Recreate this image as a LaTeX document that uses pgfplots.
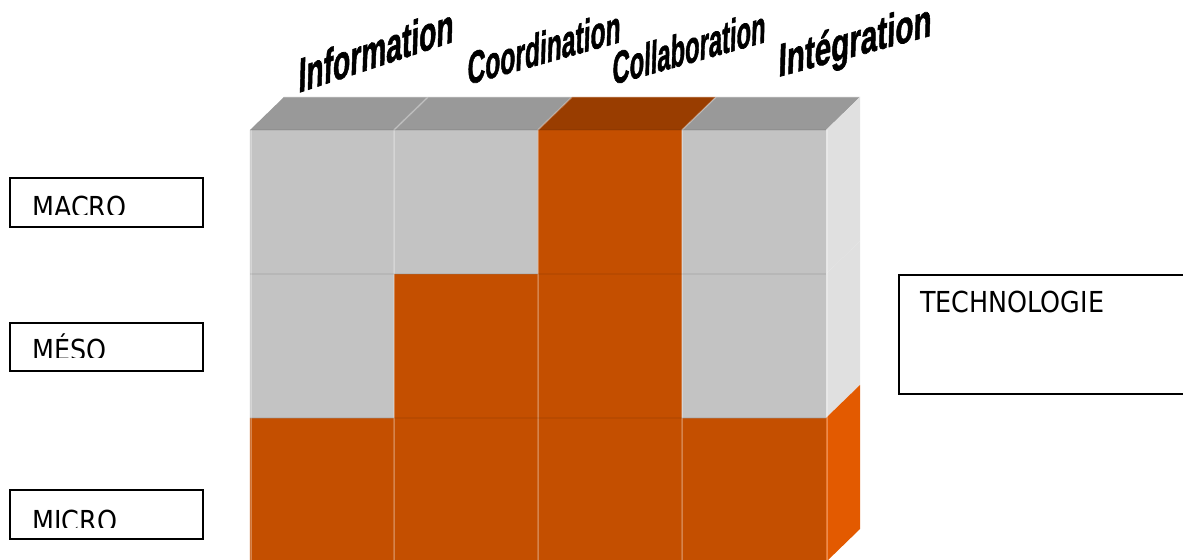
\documentclass[border=0pt]{standalone}
\usepackage{pgfplots}
\pgfplotsset{compat=1.18}
\usepackage{pgfplotstable}
\usepackage{fontspec}
\setmainfont{DejaVu Sans}[FakeStretch=0.88]
\newfontfamily\wordart{Liberation Sans}[BoldFeatures={FakeBold=1.6}]

\definecolor{frontgray}{RGB}{195,195,195}
\definecolor{frontorange}{RGB}{196,79,0}
\definecolor{topgray}{RGB}{153,153,153}
\definecolor{toporange}{RGB}{153,61,0}
\definecolor{sidegray}{RGB}{224,224,224}
\definecolor{sideorange}{RGB}{227,90,0}

\tikzset{
    lbl/.style={anchor=base west, inner sep=0pt, font=\fontsize{29}{34}\selectfont},
    wa/.style={anchor=base west, inner sep=0pt, yslant=#1, xslant=0.03, transform shape,
        font=\wordart\bfseries},
}

% cell centres (px), on = 1 orange / 0 gray
\pgfplotstableread{
x   y   on
322 490 1
466 490 1
610 490 1
754 490 1
322 346 0
466 346 1
610 346 1
754 346 0
322 202 0
466 202 0
610 202 1
754 202 0
}\cells

\begin{document}
\begin{tikzpicture}
\begin{axis}[
    width=1183bp, height=560bp, scale only axis,
    hide axis,
    xmin=0, xmax=1183, ymin=0, ymax=560,
    y dir=reverse,
    colormap={blocs}{rgb255=(195,195,195) rgb255=(196,79,0)},
    point meta min=0, point meta max=1,
]
    % front faces
    \addplot[matrix plot*, mesh/cols=4, point meta=explicit, draw=none]
        table[meta=on] {\cells};

    % top faces
    \addplot[fill=topgray, draw=none] coordinates {(250,130) (394,130) (428,97) (284,97)} --cycle;
    \addplot[fill=topgray, draw=none] coordinates {(394,130) (538,130) (572,97) (428,97)} --cycle;
    \addplot[fill=toporange, draw=none] coordinates {(538,130) (682,130) (716,97) (572,97)} --cycle;
    \addplot[fill=topgray, draw=none] coordinates {(682,130) (826,130) (860,97) (716,97)} --cycle;

    % side faces
    \addplot[fill=sidegray, draw=none] coordinates {(826,130) (860,97) (860,241) (826,274)} --cycle;
    \addplot[fill=sidegray, draw=none] coordinates {(826,274) (860,241) (860,385) (826,418)} --cycle;
    \addplot[fill=sideorange, draw=none] coordinates {(826,418) (860,385) (860,529) (826,562)} --cycle;

    % cell edges
    \draw[white, opacity=0.3, line width=1.5bp]
        (axis cs:251,130) -- (axis cs:251,562)
        (axis cs:394,130) -- (axis cs:394,562)
        (axis cs:538,130) -- (axis cs:538,562)
        (axis cs:682,130) -- (axis cs:682,562)
        (axis cs:827,130) -- (axis cs:827,562)
        (axis cs:284,97) -- (axis cs:860,97)
        (axis cs:394,130) -- (axis cs:428,97)
        (axis cs:538,130) -- (axis cs:572,97)
        (axis cs:682,130) -- (axis cs:716,97);
    \draw[black, opacity=0.06, line width=1.5bp]
        (axis cs:250,130) -- (axis cs:826,130)
        (axis cs:250,274) -- (axis cs:826,274)
        (axis cs:250,418) -- (axis cs:826,418);

    % column labels
    \node[wa=0.33] at (axis cs:298,93) {\resizebox{155bp}{35bp}{Information}};
    \node[wa=0.28] at (axis cs:467,85) {\resizebox{153bp}{33bp}{Coordination}};
    \node[wa=0.28] at (axis cs:612,85) {\resizebox{153bp}{33bp}{Collaboration}};
    \node[wa=0.27] at (axis cs:778,77) {\resizebox{153bp}{34bp}{Intégration}};

    % level boxes
    \draw[line width=1.5bp] (axis cs:10,178) rectangle (axis cs:203,227);
    \draw[line width=1.5bp] (axis cs:10,323) rectangle (axis cs:203,371);
    \draw[line width=1.5bp] (axis cs:10,490) rectangle (axis cs:203,539);
    \begin{scope}
        \clip (axis cs:12,180) rectangle (axis cs:201,215);
        \node[lbl] at (axis cs:32,218) {MACRO};
    \end{scope}
    \begin{scope}
        \clip (axis cs:12,325) rectangle (axis cs:201,358);
        \node[lbl] at (axis cs:32,361) {MÉSO};
    \end{scope}
    \begin{scope}
        \clip (axis cs:12,492) rectangle (axis cs:201,527);
        \node[lbl] at (axis cs:32,531) {MICRO};
    \end{scope}

    % technology box
    \draw[line width=1.5bp] (axis cs:1190,275) -- (axis cs:899,275)
        -- (axis cs:899,394) -- (axis cs:1190,394);
    \node[lbl] at (axis cs:920,313) {TECHNOLOGIE};
\end{axis}
\pgfresetboundingbox
\path (current axis.south west) rectangle (current axis.north east);
\end{tikzpicture}
\end{document}
